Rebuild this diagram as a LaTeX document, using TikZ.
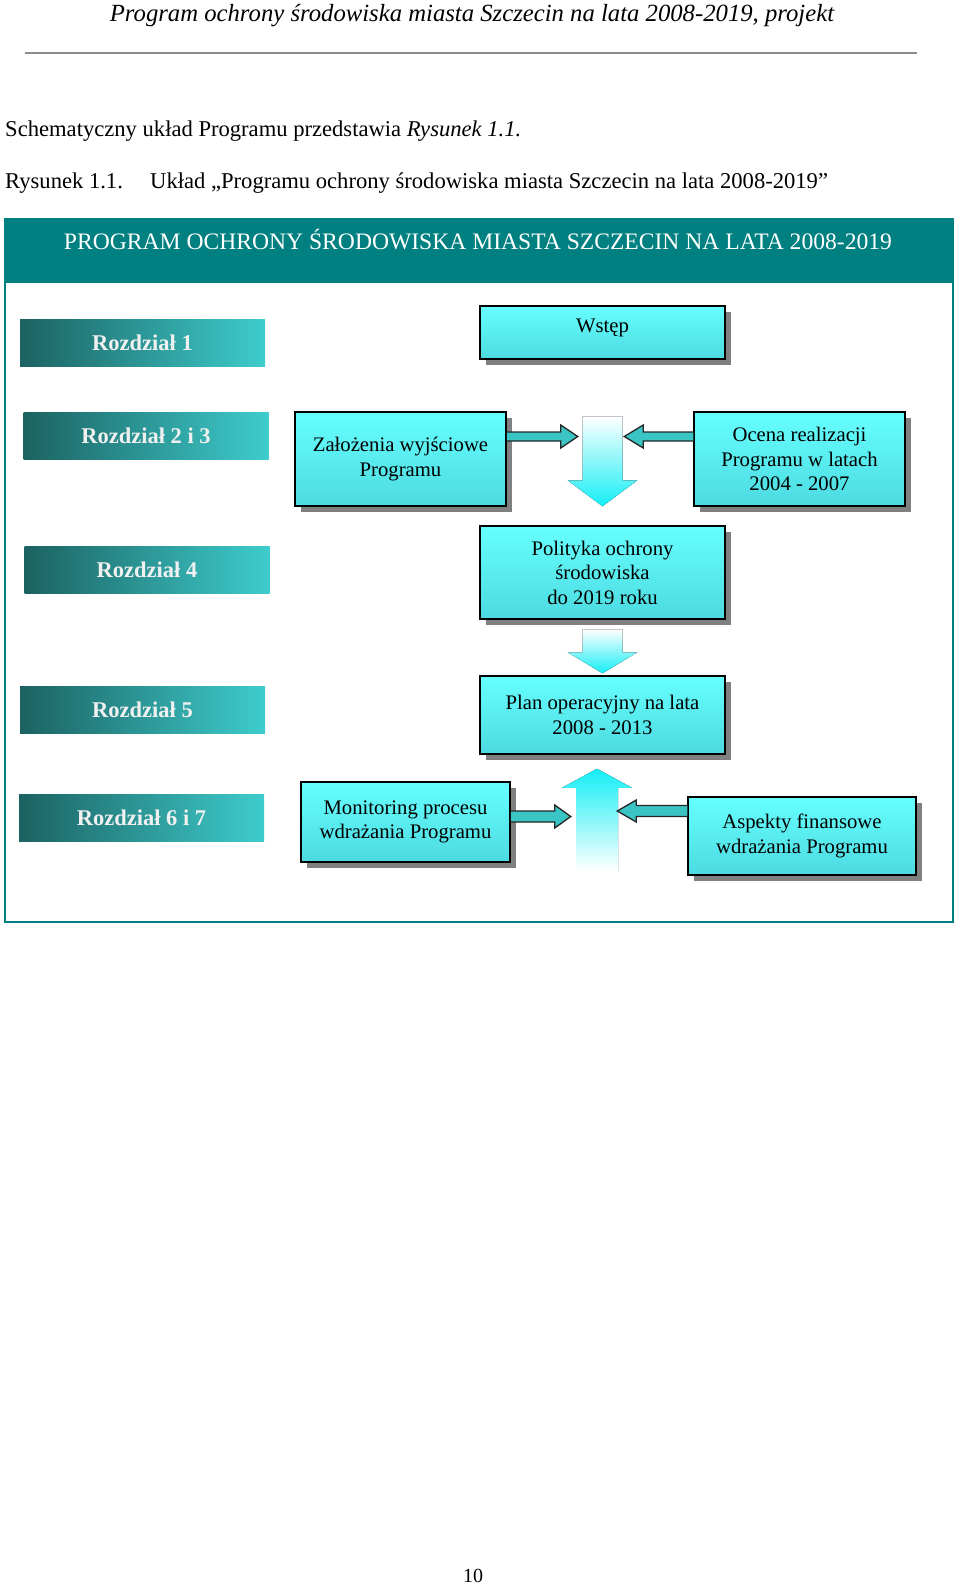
\documentclass[tikz,border=0pt]{standalone}
\usepackage{fontspec}
\setmainfont{Liberation Serif}
\usetikzlibrary{shadows,calc}
\definecolor{tealbar}{RGB}{0,128,128}
\definecolor{rozdark}{RGB}{28,98,98}
\definecolor{rozlight}{RGB}{62,204,204}
\definecolor{boxtop}{RGB}{102,255,255}
\definecolor{boxbot}{RGB}{76,218,224}
\definecolor{arrfill}{RGB}{58,196,196}
\definecolor{bigcyan}{RGB}{20,238,245}
\newcommand\bodyfont{\fontsize{22.6}{27}\selectfont}
\newcommand\headfont{\fontsize{24.7}{29}\selectfont\itshape}
\newcommand\barfont{\fontsize{23.6}{28}\selectfont}
\newcommand\boxfont{\fontsize{20.7}{24.5}\selectfont}
\newcommand\rozfont{\fontsize{22.5}{27}\selectfont\bfseries}
\begin{document}
\begin{tikzpicture}[x=1pt, y=-1pt,
  rozbox/.style={left color=rozdark, right color=rozlight, minimum width=245pt, minimum height=47pt, text=white!94!black, font=\rozfont, inner sep=0pt},
  cbox/.style={draw=black, line width=1.5pt, top color=boxtop, bottom color=boxbot, align=center, font=\boxfont, inner sep=0pt, drop shadow={shadow xshift=6pt, shadow yshift=-6pt, fill=black!50, opacity=1}},
  barrow/.style={fill=arrfill, draw=black!85, line width=1.3pt, line join=miter},
  bigdown/.style={top color=white, bottom color=bigcyan},
  bigup/.style={top color=bigcyan, bottom color=white}]
\useasboundingbox (0,0) rectangle (960,1585);

\node[anchor=base, font=\headfont] (head) at (472,21) {Program ochrony środowiska miasta Szczecin na lata 2008-2019, projekt};
\draw[black!45, line width=1.2pt] (25,53) -- (917,53);
\node[anchor=base west, font=\bodyfont, inner sep=0pt] (intro) at (5,136) {Schematyczny układ Programu przedstawia \textit{Rysunek 1.1.}};
\node[anchor=base west, font=\bodyfont, inner sep=0pt] (fig) at (5,188) {Rysunek 1.1.};
\node[anchor=base west, font=\bodyfont, inner sep=0pt] (figtitle) at (150,188) {Układ „Programu ochrony środowiska miasta Szczecin na lata 2008-2019”};

\fill[tealbar] (5,219) rectangle (953,283);
\draw[tealbar, line width=2pt] (5,219) rectangle (953,922);
\node[anchor=base, font=\barfont, text=white] (title) at (478,249) {PROGRAM OCHRONY ŚRODOWISKA MIASTA SZCZECIN NA LATA 2008-2019};

\node[rozbox] (r1) at (142.5,342.5) {Rozdział 1};
\node[rozbox] (r23) at (146,435.5) {Rozdział 2 i 3};
\node[rozbox] (r4) at (147,570) {Rozdział 4};
\node[rozbox] (r5) at (142.5,710) {Rozdział 5};
\node[rozbox] (r67) at (141.5,817.5) {Rozdział 6 i 7};

\node[cbox, minimum width=245pt, minimum height=53pt, text height=20pt, text depth=21pt] (wstep) at (602.5,332.5) {Wstęp};
\node[cbox, minimum width=211pt, minimum height=94pt] (zal) at (400.5,459) {Założenia wyjściowe\\Programu};
\node[cbox, minimum width=211pt, minimum height=94pt] (ocena) at (799.5,459) {Ocena realizacji\\Programu w latach\\2004 - 2007};
\node[cbox, minimum width=245pt, minimum height=93pt] (pol) at (602.5,572.5) {Polityka ochrony\\środowiska\\do 2019 roku};
\node[cbox, minimum width=245pt, minimum height=78pt] (plan) at (602.5,715) {Plan operacyjny na lata\\2008 - 2013};
\node[cbox, minimum width=209pt, minimum height=80pt] (mon) at (405.5,822) {Monitoring procesu\\wdrażania Programu};
\node[cbox, minimum width=228pt, minimum height=78pt] (asp) at (802,836) {Aspekty finansowe\\wdrażania Programu};

\coordinate (d1) at ($(pol.north)+(0,-19)$);
\coordinate (d2) at ($(plan.north)+(0,-2)$);
\coordinate (u1) at ($(plan.south)+(-5.5,14)$);

\fill[bigdown] ($(d1)+(-20,-90)$) -- ++(40,0) -- ++(0,64) -- ++(15,0) -- (d1) -- ++(-35,-26) -- ++(15,0) -- cycle;
\fill[bigdown] ($(d2)+(-20,-44)$) -- ++(40,0) -- ++(0,23) -- ++(15,0) -- (d2) -- ++(-35,-21) -- ++(15,0) -- cycle;
\fill[bigup] (u1) -- ++(35,19) -- ++(-14,0) -- ++(0,83) -- ++(-42,0) -- ++(0,-83) -- ++(-14,0) -- cycle;

\filldraw[barrow] ($(zal.east)+(0,-27)$) -- ++(54,0) -- ++(0,-7) -- ++(17,11.5) -- ++(-17,11.5) -- ++(0,-7) -- ++(-54,0);
\filldraw[barrow] ($(ocena.west)+(0,-27)$) -- ++(-50,0) -- ++(0,-7) -- ++(-19,11.5) -- ++(19,11.5) -- ++(0,-7) -- ++(50,0);
\filldraw[barrow] ($(mon.east)+(0,-11)$) -- ++(44,0) -- ++(0,-6) -- ++(16,11.5) -- ++(-16,11.5) -- ++(0,-6) -- ++(-44,0);
\filldraw[barrow] ($(asp.west)+(0,-30.5)$) -- ++(-51,0) -- ++(0,-5.5) -- ++(-19,11) -- ++(19,11) -- ++(0,-5.5) -- ++(51,0);

\node[anchor=base, font=\fontsize{20}{24}\selectfont] (page) at (473,1582) {10};
\end{tikzpicture}
\end{document}
